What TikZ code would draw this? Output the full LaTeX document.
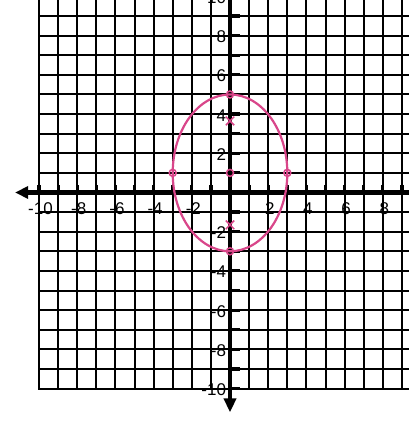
\documentclass[tikz,border=0pt]{standalone}
\usepackage{fontspec}
\setmainfont{Liberation Sans}
\usetikzlibrary{arrows.meta}
\definecolor{pinkc}{HTML}{D9468A}
\begin{document}
\begin{tikzpicture}[x=19.1pt,y=19.6pt,
  gridline/.style={line width=2pt,black},
  axisline/.style={line width=4.2pt,black},
  tickmark/.style={line width=3.2pt,black},
  lab/.style={font=\fontsize{17}{17}\selectfont,inner sep=0pt},
  pinkline/.style={draw=pinkc,line width=2.2pt},
  pinkmark/.style={draw=pinkc,line width=1.5pt}]
\useasboundingbox (-12.042,-11.811) rectangle (9.319,9.821);
\fill[white] (-12.042,-11.811) rectangle (9.319,9.821);
% grid
\foreach \i in {-10,...,9} \draw[gridline] (\i,-10.05) -- (\i,10.3);
\foreach \j in {-10,...,10} \draw[gridline] (-10.05,\j) -- (9.6,\j);
% axes
\coordinate (xl) at (-11.25,0);
\coordinate (xr) at (9.6,0);
\coordinate (yt) at (0,10.3);
\coordinate (yb) at (0,-11.22);
\draw[axisline,-{Triangle[length=13pt,width=12pt]}] (xr) -- (xl);
\draw[axisline,-{Triangle[length=14pt,width=12pt]}] (yt) -- (yb);
% ticks
\foreach \i in {-10,...,9} \draw[tickmark] (\i,0) -- (\i,0.38);
\foreach \j in {-10,...,10} \draw[tickmark] (0,\j) -- (0.52,\j);
% labels
\foreach \i in {-10,-8,-6,-4,-2,2,4,6,8}
  \node[lab] (xlab\i) at (\i+0.08,-0.82) {\i};
\foreach \j in {-10,-8,-6,-4,-2,2,4,6,8,10}
  \node[lab,anchor=east] (ylab\j) at (-0.2,\j-0.06) {\j};
% ellipse
\draw[pinkline] (0,1) ellipse [x radius=3, y radius=4];
\foreach \p in {(0,5),(0,-3),(3,1),(-3,1),(0,1)}
  \draw[pinkmark] \p circle (3.5pt);
\foreach \f in {3.65,-1.65}
  \draw[pinkmark] (-0.22,\f-0.22) -- (0.22,\f+0.22) (-0.22,\f+0.22) -- (0.22,\f-0.22);
\end{tikzpicture}
\end{document}
